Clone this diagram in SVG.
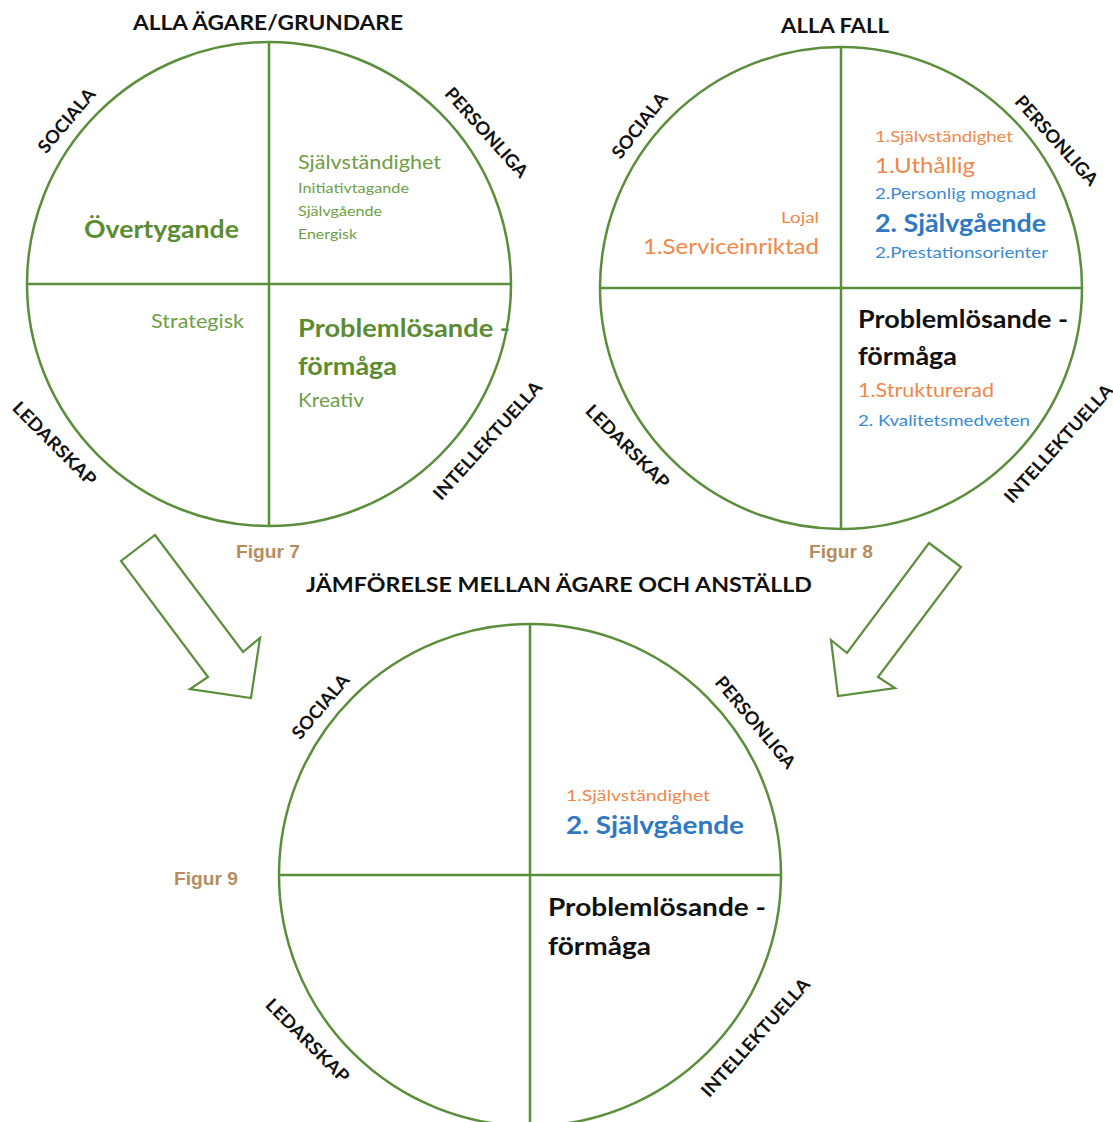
<svg xmlns="http://www.w3.org/2000/svg" width="1113" height="1122" viewBox="0 0 1113 1122">
  <style>
    .ring { fill: none; stroke: #5B8E3A; stroke-width: 2.5; }
    .div { stroke: #5B8E3A; stroke-width: 2.5; }
    .arrow { fill: #fff; stroke: #5B8E3A; stroke-width: 2.2; stroke-linejoin: miter; }
    text { font-family: Lato, "Open Sans", "Liberation Sans", sans-serif; }
    .head { font-size: 21px; font-weight: 700; fill: #111; }
    .axis { font-size: 18px; font-weight: 700; fill: #111; text-anchor: middle; dominant-baseline: central; }
    .fig { font-family: "Liberation Sans", Arial, sans-serif; font-size: 18px; font-weight: 700; fill: #B68D5E; }
    .gB { font-size: 24px; font-weight: 700; fill: #5C8C32; }
    .gM { font-size: 20px; fill: #6E9E45; }
    .gS { font-size: 14px; fill: #6E9E45; }
    .oM { font-size: 21px; fill: #F0874A; }
    .oS { font-size: 16px; fill: #F0874A; }
    .bB { font-size: 24px; font-weight: 700; fill: #2F78C4; }
    .bS { font-size: 16px; fill: #3A8AD4; }
    .kB { font-size: 24px; font-weight: 700; fill: #111; }
  </style>

  <rect width="1113" height="1122" fill="#fff"/>

  <!-- Headings -->
  <text class="head" x="133" y="30" textLength="270" lengthAdjust="spacingAndGlyphs">ALLA ÄGARE/GRUNDARE</text>
  <text class="head" x="781" y="33" textLength="108" lengthAdjust="spacingAndGlyphs">ALLA FALL</text>
  <text class="head" x="306" y="592" textLength="506" lengthAdjust="spacingAndGlyphs">JÄMFÖRELSE MELLAN ÄGARE OCH ANSTÄLLD</text>

  <!-- Figure 7: owners / founders -->
  <g id="fig7">
    <circle class="ring" cx="269" cy="284" r="242"/>
    <line class="div" x1="269" y1="42" x2="269" y2="526"/>
    <line class="div" x1="27" y1="284" x2="511" y2="284"/>
    <text class="axis" transform="translate(66,120) rotate(-50)" textLength="78" lengthAdjust="spacingAndGlyphs">SOCIALA</text>
    <text class="axis" transform="translate(487,132) rotate(48)" textLength="114" lengthAdjust="spacingAndGlyphs">PERSONLIGA</text>
    <text class="axis" transform="translate(55,443) rotate(45)" textLength="110" lengthAdjust="spacingAndGlyphs">LEDARSKAP</text>
    <text class="axis" transform="translate(487,440) rotate(-48)" textLength="152" lengthAdjust="spacingAndGlyphs">INTELLEKTUELLA</text>
    <text class="gB" x="84" y="238" textLength="155" lengthAdjust="spacingAndGlyphs">Övertygande</text>
    <text class="gM" x="298" y="169" textLength="143" lengthAdjust="spacingAndGlyphs">Självständighet</text>
    <text class="gS" x="298" y="193" textLength="111" lengthAdjust="spacingAndGlyphs">Initiativtagande</text>
    <text class="gS" x="298" y="216" textLength="84" lengthAdjust="spacingAndGlyphs">Självgående</text>
    <text class="gS" x="298" y="239" textLength="59" lengthAdjust="spacingAndGlyphs">Energisk</text>
    <text class="gM" x="151" y="328" textLength="93" lengthAdjust="spacingAndGlyphs">Strategisk</text>
    <text class="gB" x="298" y="337" textLength="212" lengthAdjust="spacingAndGlyphs">Problemlösande -</text>
    <text class="gB" x="298" y="375" textLength="99" lengthAdjust="spacingAndGlyphs">förmåga</text>
    <text class="gM" x="298" y="407" textLength="66" lengthAdjust="spacingAndGlyphs">Kreativ</text>
    <text class="fig" x="236" y="558" textLength="64" lengthAdjust="spacingAndGlyphs">Figur 7</text>
  </g>

  <!-- Figure 8: all cases -->
  <g id="fig8">
    <circle class="ring" cx="841" cy="288" r="241"/>
    <line class="div" x1="841" y1="47" x2="841" y2="529"/>
    <line class="div" x1="600" y1="288" x2="1082" y2="288"/>
    <text class="axis" transform="translate(639,125) rotate(-52)" textLength="78" lengthAdjust="spacingAndGlyphs">SOCIALA</text>
    <text class="axis" transform="translate(1057,140) rotate(48)" textLength="114" lengthAdjust="spacingAndGlyphs">PERSONLIGA</text>
    <text class="axis" transform="translate(628,446) rotate(45)" textLength="110" lengthAdjust="spacingAndGlyphs">LEDARSKAP</text>
    <text class="axis" transform="translate(1058,443) rotate(-48)" textLength="152" lengthAdjust="spacingAndGlyphs">INTELLEKTUELLA</text>
    <text class="oS" x="875" y="142" textLength="138" lengthAdjust="spacingAndGlyphs">1.Självständighet</text>
    <text class="oM" x="875" y="173" textLength="100" lengthAdjust="spacingAndGlyphs">1.Uthållig</text>
    <text class="bS" x="875" y="199" textLength="161" lengthAdjust="spacingAndGlyphs">2.Personlig mognad</text>
    <text class="bB" x="875" y="232" textLength="171" lengthAdjust="spacingAndGlyphs">2. Självgående</text>
    <text class="bS" x="875" y="258" textLength="173" lengthAdjust="spacingAndGlyphs">2.Prestationsorienter</text>
    <text class="oS" x="781" y="223" textLength="38" lengthAdjust="spacingAndGlyphs">Lojal</text>
    <text class="oM" x="643" y="254" textLength="176" lengthAdjust="spacingAndGlyphs">1.Serviceinriktad</text>
    <text class="kB" x="858" y="328" textLength="210" lengthAdjust="spacingAndGlyphs">Problemlösande -</text>
    <text class="kB" x="858" y="365" textLength="99" lengthAdjust="spacingAndGlyphs">förmåga</text>
    <text class="oM" x="858" y="397" style="font-size:19px" textLength="136" lengthAdjust="spacingAndGlyphs">1.Strukturerad</text>
    <text class="bS" x="858" y="426" textLength="172" lengthAdjust="spacingAndGlyphs">2. Kvalitetsmedveten</text>
    <text class="fig" x="809" y="558" textLength="64" lengthAdjust="spacingAndGlyphs">Figur 8</text>
  </g>

  <!-- Figure 9: owner vs employee -->
  <g id="fig9">
    <circle class="ring" cx="530" cy="875" r="251"/>
    <line class="div" x1="530" y1="624" x2="530" y2="1122"/>
    <line class="div" x1="279" y1="875" x2="781" y2="875"/>
    <text class="axis" transform="translate(320,706) rotate(-50)" textLength="78" lengthAdjust="spacingAndGlyphs">SOCIALA</text>
    <text class="axis" transform="translate(756,722) rotate(50)" textLength="114" lengthAdjust="spacingAndGlyphs">PERSONLIGA</text>
    <text class="axis" transform="translate(308,1040) rotate(45)" textLength="110" lengthAdjust="spacingAndGlyphs">LEDARSKAP</text>
    <text class="axis" transform="translate(755,1037) rotate(-48)" textLength="152" lengthAdjust="spacingAndGlyphs">INTELLEKTUELLA</text>
    <text class="oS" x="566" y="801" textLength="144" lengthAdjust="spacingAndGlyphs">1.Självständighet</text>
    <text class="bB" x="566" y="834" textLength="178" lengthAdjust="spacingAndGlyphs">2. Självgående</text>
    <text class="kB" x="548" y="916" textLength="218" lengthAdjust="spacingAndGlyphs">Problemlösande -</text>
    <text class="kB" x="548" y="955" textLength="103" lengthAdjust="spacingAndGlyphs">förmåga</text>
    <text class="fig" x="174" y="885" textLength="64" lengthAdjust="spacingAndGlyphs">Figur 9</text>
  </g>

  <!-- Block arrows leading into figure 9 -->
  <g id="connectors">
    <polygon class="arrow" points="155,535 243,652 260,638 251,698 190,689 208,677 121,561"/>
    <polygon class="arrow" points="929,543 961,567 878,677 895,688 838,696 831,640 847,653"/>
  </g>
</svg>
